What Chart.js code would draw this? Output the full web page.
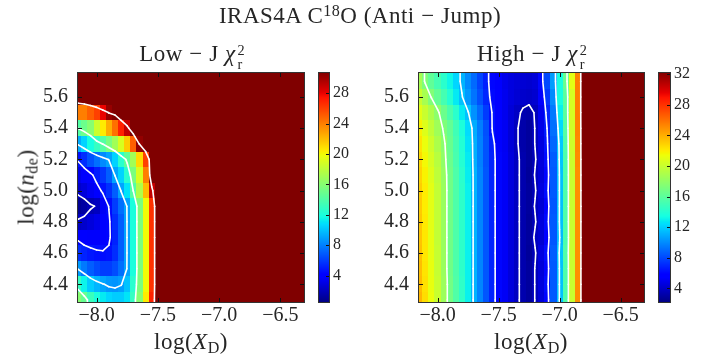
<!DOCTYPE html>
<html>
<head>
<meta charset="utf-8">
<title>IRAS4A C18O anti-jump chi2 maps</title>
<script src="https://cdn.jsdelivr.net/npm/chart.js@4.4.1/dist/chart.umd.min.js"></script>
<style>
  body { margin: 0; background: #fff; }
  #wrap { position: relative; width: 711px; height: 363px; overflow: hidden;
          font-family: "Liberation Serif", "DejaVu Serif", serif; color: #262626; }
  #wrap canvas { position: absolute; left: 0; top: 0; }
  .t { position: absolute; white-space: nowrap; font-size: 23px; letter-spacing: 0.5px; line-height: 1; transform: translateX(-50%); }
  .op { margin: 0 0.28em; }
  .ss { display: inline-flex; flex-direction: column; font-size: 0.62em; line-height: 0.95; vertical-align: 0.42em; margin-left: 2px; letter-spacing: 0; }
  sub { font-size: 0.7em; vertical-align: -0.25em; line-height: 0; }
  sup { font-size: 0.7em; vertical-align: 0.45em; line-height: 0; }
  .yt { position: absolute; white-space: nowrap; font-size: 23px; letter-spacing: 0.5px; line-height: 1; transform: translate(-50%, -50%) rotate(-90deg); }
</style>
</head>
<body>
<div id="wrap">
  <canvas id="lowMap" width="711" height="363"></canvas>
  <canvas id="lowBar" width="711" height="363"></canvas>
  <canvas id="highMap" width="711" height="363"></canvas>
  <canvas id="highBar" width="711" height="363"></canvas>
  <div class="t" style="left:360px;top:4px">IRAS4A C<sup>18</sup>O (Anti<span class="op">−</span>Jump)</div>
  <div class="t" style="left:192px;top:42px">Low<span class="op">−</span>J <i>χ</i><span class="ss"><span>2</span><span>r</span></span></div>
  <div class="t" style="left:532px;top:42px">High<span class="op">−</span>J <i>χ</i><span class="ss"><span>2</span><span>r</span></span></div>
  <div class="t" style="left:191px;top:330px">log(<i>X</i><sub>D</sub>)</div>
  <div class="t" style="left:531px;top:330px">log(<i>X</i><sub>D</sub>)</div>
  <div class="yt" style="left:26px;top:187px">log(<i>n</i><sub>de</sub>)</div>
</div>

<script>
// grid of the maps: log(X_D) columns, log(n_de) rows (bottom to top)
const xCols = [-8.15,-8.10,-8.05,-8.00,-7.95,-7.90,-7.85,-7.80,-7.75,-7.70,-7.65,-7.60,-7.55,-7.50,-7.45,-7.40,-7.35,-7.30,-7.25,-7.20,-7.15,-7.10,-7.05,-7.00,-6.95,-6.90,-6.85,-6.80,-6.75,-6.70,-6.65,-6.60,-6.55,-6.50,-6.45,-6.40,-6.35,-6.30];
const yRows = [4.3, 4.4, 4.5, 4.6, 4.7, 4.8, 4.9, 5.0, 5.1, 5.2, 5.3, 5.4, 5.5, 5.6, 5.7];

const xTicks = [-8.0, -7.5, -7.0, -6.5];
const yTicks = [4.4, 4.6, 4.8, 5.0, 5.2, 5.4, 5.6];

// reduced chi2, low-J lines (45 = off the colour scale)
const lowJ = [
  [16,14.8,13.2,12,11.2,10.6,10.3,10.3,11,13,16,20.5,27,34,45,45,45,45,45,45,45,45,45,45,45,45,45,45,45,45,45,45,45,45,45,45,45,45],
  [13,11.5,10.3,9.6,9.1,8.7,8.6,8.9,10,12.5,15.5,20,26.5,34,45,45,45,45,45,45,45,45,45,45,45,45,45,45,45,45,45,45,45,45,45,45,45,45],
  [8.8,7.8,7,6.4,6,6,6.5,7.5,9.1,12,15.5,20,26.5,34,45,45,45,45,45,45,45,45,45,45,45,45,45,45,45,45,45,45,45,45,45,45,45,45],
  [5.6,5.2,4.9,4.7,4.6,4.7,5.5,7,9.1,12,15.5,20,26.5,34,45,45,45,45,45,45,45,45,45,45,45,45,45,45,45,45,45,45,45,45,45,45,45,45],
  [4.2,3.8,3.7,3.7,3.9,4.3,5.2,7,9.1,12,15.5,20,26.5,34,45,45,45,45,45,45,45,45,45,45,45,45,45,45,45,45,45,45,45,45,45,45,45,45],
  [2.2,2.4,2.8,3.2,3.8,4.3,5.5,7,9.1,12,15.5,20,26.5,34,45,45,45,45,45,45,45,45,45,45,45,45,45,45,45,45,45,45,45,45,45,45,45,45],
  [1,1.3,1.8,2.1,3.5,4.55,6,7.5,9.1,12,15.5,20,26.5,34,45,45,45,45,45,45,45,45,45,45,45,45,45,45,45,45,45,45,45,45,45,45,45,45],
  [2.4,2.8,3.4,4,4.7,5.6,7,9.1,11,14.1,17.5,22,29,35,45,45,45,45,45,45,45,45,45,45,45,45,45,45,45,45,45,45,45,45,45,45,45,45],
  [3.2,3.7,4.2,5,5.8,7,9.1,10.5,12.5,15.5,19,24,33,38,45,45,45,45,45,45,45,45,45,45,45,45,45,45,45,45,45,45,45,45,45,45,45,45],
  [4.7,5.5,6.6,7.5,8.3,9.1,10.5,12.5,14.5,17,21,26,33,38,45,45,45,45,45,45,45,45,45,45,45,45,45,45,45,45,45,45,45,45,45,45,45,45],
  [9.3,10.5,11.8,13,14.1,15.5,17,19,21.5,25,30.3,34,40,45,45,45,45,45,45,45,45,45,45,45,45,45,45,45,45,45,45,45,45,45,45,45,45,45],
  [14.1,15,16,18.5,20.5,22.5,24.5,27,29,33,38,42,45,45,45,45,45,45,45,45,45,45,45,45,45,45,45,45,45,45,45,45,45,45,45,45,45,45],
  [24,24,25,26,28,30.2,31,33,36,40,45,45,45,45,45,45,45,45,45,45,45,45,45,45,45,45,45,45,45,45,45,45,45,45,45,45,45,45],
  [34,35,36,38,40,45,45,45,45,45,45,45,45,45,45,45,45,45,45,45,45,45,45,45,45,45,45,45,45,45,45,45,45,45,45,45,45,45],
  [45,45,45,45,45,45,45,45,45,45,45,45,45,45,45,45,45,45,45,45,45,45,45,45,45,45,45,45,45,45,45,45,45,45,45,45,45,45]
];

// reduced chi2, high-J lines
const highJ = [
  [23.8,22.5,21.3,20,18.4,16.9,15.6,14.4,13,11.2,9.8,8.4,6.9,6,5.2,4.5,3.8,3.3,2.9,3.65,4.4,6,8.5,11.6,15.5,20,25,35,45,45,45,45,45,45,45,45,45,45],
  [23.6,22.4,21.2,20,18.4,16.9,15.6,14.4,13,11.2,9.8,8.4,6.9,6,5.2,4.5,3.8,3.3,2.9,3.65,4.5,6.2,8.5,11.6,15.5,20,25,35,45,45,45,45,45,45,45,45,45,45],
  [23.5,22.3,21.2,19.9,18.3,16.8,15.5,14.3,13,11.2,9.8,8.4,6.9,6,5.2,4.5,3.8,3.3,2.9,3.65,4.4,6,8.5,11.6,15.5,20,25,35,45,45,45,45,45,45,45,45,45,45],
  [23.4,22.2,21.1,19.9,18.3,16.8,15.5,14.3,13,11.2,9.8,8.4,6.9,6,5.2,4.5,3.8,3.3,2.8,3.5,4.6,6.2,8.6,11.7,15.6,20,25,35,45,45,45,45,45,45,45,45,45,45],
  [23.3,22.2,21.1,19.8,18.3,16.8,15.5,14.3,13,11.2,9.8,8.4,6.9,6,5.2,4.5,3.8,3.3,2.9,3.8,4.2,5.8,8.4,11.4,15.4,20,25,35,45,45,45,45,45,45,45,45,45,45],
  [23.2,22.1,21,19.8,18.3,16.8,15.5,14.3,13,11.2,9.8,8.4,6.9,6,5.2,4.5,3.8,3.3,2.8,3.5,4.5,6.1,8.5,11.6,15.5,20,25,35,45,45,45,45,45,45,45,45,45,45],
  [23.1,22,21,19.8,18.3,16.8,15.5,14.3,13,11.2,9.8,8.4,6.9,6,5.2,4.5,3.8,3.3,2.9,3.7,4.3,5.9,8.4,11.6,15.5,20,25,35,45,45,45,45,45,45,45,45,45,45],
  [23,22,21,19.8,18.3,16.8,15.5,14.3,13,11.2,9.8,8.4,6.9,6,5.2,4.5,3.8,3.3,2.9,3.5,4.6,6.2,8.5,11.6,15.5,20,25,35,45,45,45,45,45,45,45,45,45,45],
  [22.8,21.8,20.8,19.6,18.2,16.8,15.5,14.2,12.9,11.2,9.8,8.4,6.9,6,5.2,4.5,3.8,3.3,2.8,3.7,4.4,6,8.5,11.6,15.5,20,25,35,45,45,45,45,45,45,45,45,45,45],
  [22.6,21.6,20.5,19.4,18,16.6,15.3,14,12.8,11.1,9.7,8.3,6.9,6,5.2,4.5,3.8,3.3,2.9,3.5,4.5,6.2,8.6,11.7,15.5,20.1,25.1,35,45,45,45,45,45,45,45,45,45,45],
  [22.3,21.3,20.2,19,17.8,16.5,15.2,13.9,12.6,11.1,9.7,8.3,6.8,5.9,5.1,4.4,3.7,3.2,2.9,3.65,4.6,6.4,8.9,11.8,15.6,20.2,25.2,35,45,45,45,45,45,45,45,45,45,45],
  [21.8,20.8,19.7,18.5,17.3,16.3,15,13.7,12.4,11,9.6,8.2,6.4,5.9,5.1,4.4,3.7,3.2,2.9,3.65,4.8,6.6,9.2,12.3,15.8,20.3,25.3,35,45,45,45,45,45,45,45,45,45,45],
  [21,20,19,17.8,16.6,15.4,14.2,12.8,11.6,10.2,9,7.6,6.4,5.8,5,4.4,3.9,3.4,3.2,3.7,5,7,9.5,13,16,20.5,25.5,35,45,45,45,45,45,45,45,45,45,45],
  [20,18.8,17.4,16.3,15.2,14,12.8,11.6,10.4,9.3,8.2,7,6.1,5.5,5,4.6,4.3,4.1,4,4.2,5.5,7.5,10,13.5,16,20.5,25.5,35,45,45,45,45,45,45,45,45,45,45],
  [18.8,17.3,16.2,15.2,14.2,13.2,12.2,11.2,10,9,7.9,6.8,6,5.4,4.9,4.6,4.4,4.3,4.2,4.4,6,8,10.5,13.5,16.5,21,25.5,35,45,45,45,45,45,45,45,45,45,45]
];

// colour scale limits, colour-bar ticks and contour levels
const lowRange = [0.4, 30.8];
const highRange = [2.1, 32.3];
const lowBarTicks = [4, 8, 12, 16, 20, 24, 28];
const highBarTicks = [4, 8, 12, 16, 20, 24, 28, 32];
const lowLevels = [2, 4.5, 9, 14, 30];
const highLevels = [3.6, 6.5, 11.5, 17.5, 30];

const FONT = 'Liberation Serif';
const INK = '#262626';

// matplotlib "jet"
const jetR = [[0,0],[0.35,0],[0.66,1],[0.89,1],[1,0.5]];
const jetG = [[0,0],[0.125,0],[0.375,1],[0.64,1],[0.91,0],[1,0]];
const jetB = [[0,0.5],[0.11,1],[0.34,1],[0.65,0],[1,0]];
function seg(t, pts) {
    for (let k = 1; k < pts.length; k++) {
        if (t <= pts[k][0]) {
            const [t0, v0] = pts[k-1], [t1, v1] = pts[k];
            return v0 + (v1 - v0) * (t - t0) / (t1 - t0);
        }
    }
    return pts[pts.length-1][1];
}
function jet(t) {
    t = Math.min(1, Math.max(0, t));
    return `rgb(${Math.round(seg(t, jetR)*255)},${Math.round(seg(t, jetG)*255)},${Math.round(seg(t, jetB)*255)})`;
}

function edges(c, lo, hi) {
    const e = [lo];
    for (let k = 1; k < c.length; k++) e.push((c[k-1] + c[k]) / 2);
    e.push(hi);
    return e;
}

// marching squares for one cell, corners a(bl) b(br) c(tr) d(tl)
function cellSegs(xa, xb, ya, yb, a, b, c, d, L) {
    const cut = (v1, v2) => (v1 >= L) !== (v2 >= L);
    const f = (v1, v2) => (L - v1) / (v2 - v1);
    const eb = cut(a, b) ? [xa + (xb - xa) * f(a, b), ya] : null;
    const er = cut(b, c) ? [xb, ya + (yb - ya) * f(b, c)] : null;
    const et = cut(d, c) ? [xa + (xb - xa) * f(d, c), yb] : null;
    const el = cut(a, d) ? [xa, ya + (yb - ya) * f(a, d)] : null;
    const e = [eb, er, et, el].filter(Boolean);
    if (e.length === 2) return [[e[0], e[1]]];
    if (e.length === 4) {
        const mid = (a + b + c + d) / 4;
        if ((mid >= L) === (a >= L)) return [[eb, er], [et, el]];
        return [[eb, el], [er, et]];
    }
    return [];
}

function line(ctx, x0, y0, x1, y1) {
    ctx.beginPath(); ctx.moveTo(x0, y0); ctx.lineTo(x1, y1); ctx.stroke();
}

function mapPlugin(grid, range, levels) {
    return {
        id: 'heatmap',
        beforeDatasetsDraw(chart) {
            const {ctx, chartArea: a, scales: {x, y}} = chart;
            const xe = edges(xCols, x.min, x.max), ye = edges(yRows, y.min, y.max);
            ctx.save();
            ctx.beginPath(); ctx.rect(a.left, a.top, a.width, a.height); ctx.clip();
            grid.forEach((row, j) => row.forEach((v, i) => {
                const x0 = Math.round(x.getPixelForValue(xe[i])), x1 = Math.round(x.getPixelForValue(xe[i+1]));
                const y0 = Math.round(y.getPixelForValue(ye[j])), y1 = Math.round(y.getPixelForValue(ye[j+1]));
                ctx.fillStyle = jet((v - range[0]) / (range[1] - range[0]));
                ctx.fillRect(x0, y1, x1 - x0, y0 - y1);
            }));
            // contours, edge values held out to the frame
            const gx = [x.min, ...xCols, x.max], gy = [y.min, ...yRows, y.max];
            const gz = [grid[0], ...grid, grid[grid.length-1]].map(r => [r[0], ...r, r[r.length-1]]);
            ctx.strokeStyle = '#fff'; ctx.lineWidth = 1.6; ctx.lineCap = 'round';
            levels.forEach(L => {
                for (let j = 0; j < gy.length - 1; j++) {
                    for (let i = 0; i < gx.length - 1; i++) {
                        cellSegs(gx[i], gx[i+1], gy[j], gy[j+1], gz[j][i], gz[j][i+1], gz[j+1][i+1], gz[j+1][i], L)
                            .forEach(([p, q]) => line(ctx, x.getPixelForValue(p[0]), y.getPixelForValue(p[1]),
                                                           x.getPixelForValue(q[0]), y.getPixelForValue(q[1])));
                    }
                }
            });
            ctx.restore();
        },
        afterDraw(chart) {
            const {ctx, chartArea: a, scales: {x, y}} = chart;
            ctx.save();
            ctx.strokeStyle = '#111'; ctx.lineWidth = 1;
            xTicks.forEach(v => {
                const p = Math.round(x.getPixelForValue(v)) + 0.5;
                line(ctx, p, a.bottom, p, a.bottom - 5);
                line(ctx, p, a.top, p, a.top + 5);
            });
            yTicks.forEach(v => {
                const p = Math.round(y.getPixelForValue(v)) + 0.5;
                line(ctx, a.left, p, a.left + 5, p);
                line(ctx, a.right, p, a.right - 5, p);
            });
            ctx.strokeStyle = '#333';
            ctx.strokeRect(a.left + 0.5, a.top + 0.5, a.width - 1, a.height - 1);
            ctx.restore();
        }
    };
}

function barPlugin(range, ticks) {
    return {
        id: 'colorbar',
        beforeDatasetsDraw(chart) {
            const {ctx, chartArea: a, scales: {y}} = chart;
            for (let p = a.top; p < a.bottom; p++) {
                const v = y.getValueForPixel(p + 0.5);
                ctx.fillStyle = jet((v - range[0]) / (range[1] - range[0]));
                ctx.fillRect(a.left, p, a.width, 1);
            }
        },
        afterDraw(chart) {
            const {ctx, chartArea: a, scales: {y}} = chart;
            ctx.save();
            ctx.strokeStyle = '#111'; ctx.lineWidth = 1;
            ticks.forEach(v => {
                const p = Math.round(y.getPixelForValue(v)) + 0.5;
                line(ctx, a.right, p, a.right - 4, p);
            });
            ctx.strokeStyle = '#333';
            ctx.strokeRect(a.left + 0.5, a.top + 0.5, a.width - 1, a.height - 1);
            ctx.restore();
        }
    };
}

const fmt = v => (v < 0 ? '\u2212' : '') + Math.abs(v).toFixed(1);

function drawMap(id, grid, range, levels, left, right) {
    new Chart(document.getElementById(id), {
        type: 'scatter',
        data: { datasets: [{ data: [] }] },
        options: {
            responsive: false, animation: false, events: [],
            layout: { padding: { left: left - 77, right: 711 - right, top: 72, bottom: 0 } },
            plugins: { legend: { display: false }, tooltip: { enabled: false } },
            scales: {
                x: {
                    type: 'linear', min: -8.16, max: -6.30,
                    grid: { display: false, drawTicks: false }, border: { display: false },
                    afterBuildTicks: s => { s.ticks = xTicks.map(v => ({ value: v })); },
                    afterFit: s => { s.height = 60; },
                    ticks: { padding: 1, color: INK, font: { family: FONT, size: 20 }, maxRotation: 0, autoSkip: false, callback: fmt }
                },
                y: {
                    type: 'linear', min: 4.28, max: 5.76,
                    grid: { display: false, drawTicks: false }, border: { display: false },
                    afterBuildTicks: s => { s.ticks = yTicks.map(v => ({ value: v })); },
                    afterFit: s => { s.width = 77; },
                    ticks: { padding: 9, color: INK, font: { family: FONT, size: 20 }, autoSkip: false, callback: fmt }
                }
            }
        },
        plugins: [mapPlugin(grid, range, levels)]
    });
}

function drawBar(id, range, ticks, left, right) {
    new Chart(document.getElementById(id), {
        type: 'scatter',
        data: { datasets: [{ data: [] }] },
        options: {
            responsive: false, animation: false, events: [],
            layout: { padding: { left: left, right: 711 - right - 30, top: 72, bottom: 60 } },
            plugins: { legend: { display: false }, tooltip: { enabled: false } },
            scales: {
                x: { display: false, min: 0, max: 1 },
                y: {
                    position: 'right', min: range[0], max: range[1],
                    grid: { display: false, drawTicks: false }, border: { display: false },
                    afterBuildTicks: s => { s.ticks = ticks.map(v => ({ value: v })); },
                    afterFit: s => { s.width = 30; },
                    ticks: { padding: 3, color: INK, font: { family: FONT, size: 16 }, autoSkip: false }
                }
            }
        },
        plugins: [barPlugin(range, ticks)]
    });
}

drawMap('lowMap', lowJ, lowRange, lowLevels, 77, 305);
drawBar('lowBar', lowRange, lowBarTicks, 318, 330);
drawMap('highMap', highJ, highRange, highLevels, 418, 645);
drawBar('highBar', highRange, highBarTicks, 658, 671);
</script>
</body>
</html>
